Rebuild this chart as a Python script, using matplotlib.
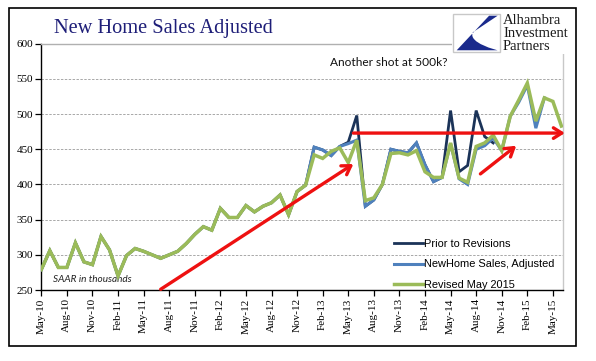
import matplotlib
matplotlib.use("Agg")
import matplotlib.pyplot as plt
from matplotlib.patches import Rectangle, PathPatch
from matplotlib.path import Path

# ---------------- data ----------------
revised = [279, 306, 282, 282, 317, 290, 286, 326, 307, 270,
           299, 309, 305, 300, 295, 300, 305, 316, 329, 340,
           335, 366, 353, 353, 370, 361, 369, 374, 385, 357,
           390, 399, 442, 437, 447, 452, 431, 463, 377, 381,
           400, 444, 445, 442, 448, 418, 410, 410, 459, 409,
           403, 454, 459, 470, 448, 497, 520, 544, 490, 523,
           518, 483]
adjusted = [279, 306, 282, 282, 317, 290, 286, 326, 307, 270,
            299, 309, 305, 300, 295, 300, 305, 316, 329, 340,
            335, 366, 353, 353, 370, 361, 369, 374, 385, 357,
            390, 399, 453, 449, 441, 454, 458, 463, 369, 378,
            400, 450, 447, 445, 459, 428, 404, 410, 458, 408,
            400, 450, 455, 466, 448, 497, 517, 541, 480, 523]
prior = [279, 306, 282, 282, 317, 290, 286, 326, 307, 270,
         299, 309, 305, 300, 295, 300, 305, 316, 329, 340,
         335, 366, 353, 353, 370, 361, 369, 374, 385, 357,
         390, 399, 453, 449, 441, 454, 460, 498, 369, 378,
         400, 450, 447, 445, 459, 428, 404, 410, 505, 418,
         427, 505, 468, 459]
tick_labels = ["May-10", "Aug-10", "Nov-10", "Feb-11", "May-11", "Aug-11",
               "Nov-11", "Feb-12", "May-12", "Aug-12", "Nov-12", "Feb-13",
               "May-13", "Aug-13", "Nov-13", "Feb-14", "May-14", "Aug-14",
               "Nov-14", "Feb-15", "May-15"]
series_names = ["Prior to Revisions", "NewHome Sales, Adjusted", "Revised May 2015"]
# annotation arrows: (x_start, y_start, x_end, y_end) in month-index / value units
arrows = [(14.0, 251, 36.6, 429),
          (36.6, 473, 61.4, 473),
          (51.5, 415, 55.7, 455)]

W, H = 596, 361
fig = plt.figure(figsize=(W / 100, H / 100), dpi=100)
fig.patch.set_facecolor("white")

def fx(px):
    return px / W

def fy(py):
    return 1 - py / H

L, R, T, B = 41.3, 562.7, 43.7, 290.0
ax = fig.add_axes([fx(L), fy(B), fx(R - L), (B - T) / H])

c_prior, c_adj, c_rev = "#1b3358", "#4f81bd", "#9bbb59"
ax.plot(range(len(prior)), prior, color=c_prior, lw=2.0, label=series_names[0], zorder=3,
        solid_joinstyle="miter")
ax.plot(range(len(adjusted)), adjusted, color=c_adj, lw=2.2, label=series_names[1], zorder=4,
        solid_joinstyle="miter")
ax.plot(range(len(revised)), revised, color=c_rev, lw=2.5, label=series_names[2], zorder=5,
        solid_joinstyle="miter")

for (x0, y0, x1, y1) in arrows:
    ax.annotate("", xy=(x1, y1), xytext=(x0, y0), xycoords="data",
                arrowprops=dict(arrowstyle="->,head_length=0.6,head_width=0.38",
                                color="#ee1111", lw=2.4, shrinkA=0, shrinkB=0),
                annotation_clip=False, zorder=6)

ax.set_xlim(0, 61.15)
ax.set_ylim(250, 600)
ax.set_yticks(range(250, 601, 50))
ax.set_xticks(range(0, 3 * len(tick_labels), 3))
ax.set_xticklabels(tick_labels, rotation=90, fontfamily="Liberation Serif", fontsize=8)
for lab in ax.get_yticklabels():
    lab.set_fontfamily("Liberation Serif")
    lab.set_fontsize(8)
ax.tick_params(axis="both", direction="out", length=4, width=0.9, color="black", pad=2)

ax.grid(axis="y", color="#a8a8a8", lw=0.7, ls=(0, (2.5, 1.5)))
ax.set_axisbelow(True)
ax.spines["left"].set_color("black")
ax.spines["bottom"].set_color("black")
ax.spines["left"].set_linewidth(1.0)
ax.spines["bottom"].set_linewidth(1.0)
ax.spines["top"].set_color("#b0b0b0")
ax.spines["right"].set_color("#c8c8c8")
ax.spines["top"].set_linewidth(1.0)
ax.spines["right"].set_linewidth(1.0)

leg = ax.legend(loc="upper left", bbox_to_anchor=(fx(394), fy(239)),
                bbox_transform=fig.transFigure, frameon=False,
                prop={"family": "Liberation Sans", "size": 7.9},
                handlelength=2.6, handletextpad=0.1, labelspacing=0.95,
                borderpad=0, borderaxespad=0)

ax.text(0.022, 0.025, "SAAR in thousands", transform=ax.transAxes,
        fontfamily="Lato", fontstyle="italic", fontsize=7.2, color="#222222",
        va="bottom", ha="left")
fig.text(fx(330), fy(63), "Another shot at 500k?", fontfamily="Lato", fontsize=8.6,
         color="#111111", va="center", ha="left")

# title
fig.text(fx(54), fy(28), "New Home Sales Adjusted", fontfamily="Liberation Serif",
         fontsize=14.7, color="#1e1e78", va="center", ha="left")

# white cover for the logo area
fig.patches.append(Rectangle((fx(452), fy(54)), fx(120), 44 / H, transform=fig.transFigure,
                             facecolor="white", edgecolor="none", zorder=2))
# logo box
lx0, lx1, ly0, ly1 = 453, 500, 14, 52
fig.patches.append(Rectangle((fx(lx0), fy(ly1)), fx(lx1 - lx0), (ly1 - ly0) / H,
                             transform=fig.transFigure, facecolor="white",
                             edgecolor="#c8c8c8", lw=1.0, zorder=3))
lax = fig.add_axes([fx(lx0 + 1), fy(ly1 - 1), fx(lx1 - lx0 - 2), (ly1 - ly0 - 2) / H], zorder=4)
lax.set_xlim(0, 1)
lax.set_ylim(0, 1)
lax.axis("off")
verts = [(0.78, 0.98), (0.97, 0.98), (0.42, 0.52),
         (0.30, 0.22), (0.97, 0.02), (0.97, 0.02),
         (0.06, 0.02), (0.78, 0.98)]
codes = [Path.MOVETO, Path.LINETO, Path.LINETO,
         Path.CURVE4, Path.CURVE4, Path.CURVE4,
         Path.LINETO, Path.CLOSEPOLY]
lax.add_patch(PathPatch(Path(verts, codes), facecolor="#1a2a8c", edgecolor="none"))

for txt, yy in zip(["Alhambra", "Investment", "Partners"], [20.7, 33.3, 46.0]):
    fig.text(fx(503), fy(yy), txt, fontfamily="Liberation Serif", fontsize=10.5,
             color="#1a1a1a", va="center", ha="left", zorder=5)

# outer frame
fig.patches.append(Rectangle((fx(9), fy(346)), fx(576 - 9), (346 - 8) / H,
                             transform=fig.transFigure, facecolor="none",
                             edgecolor="black", lw=1.2, zorder=6))

fig.savefig("out.png", dpi=100)
